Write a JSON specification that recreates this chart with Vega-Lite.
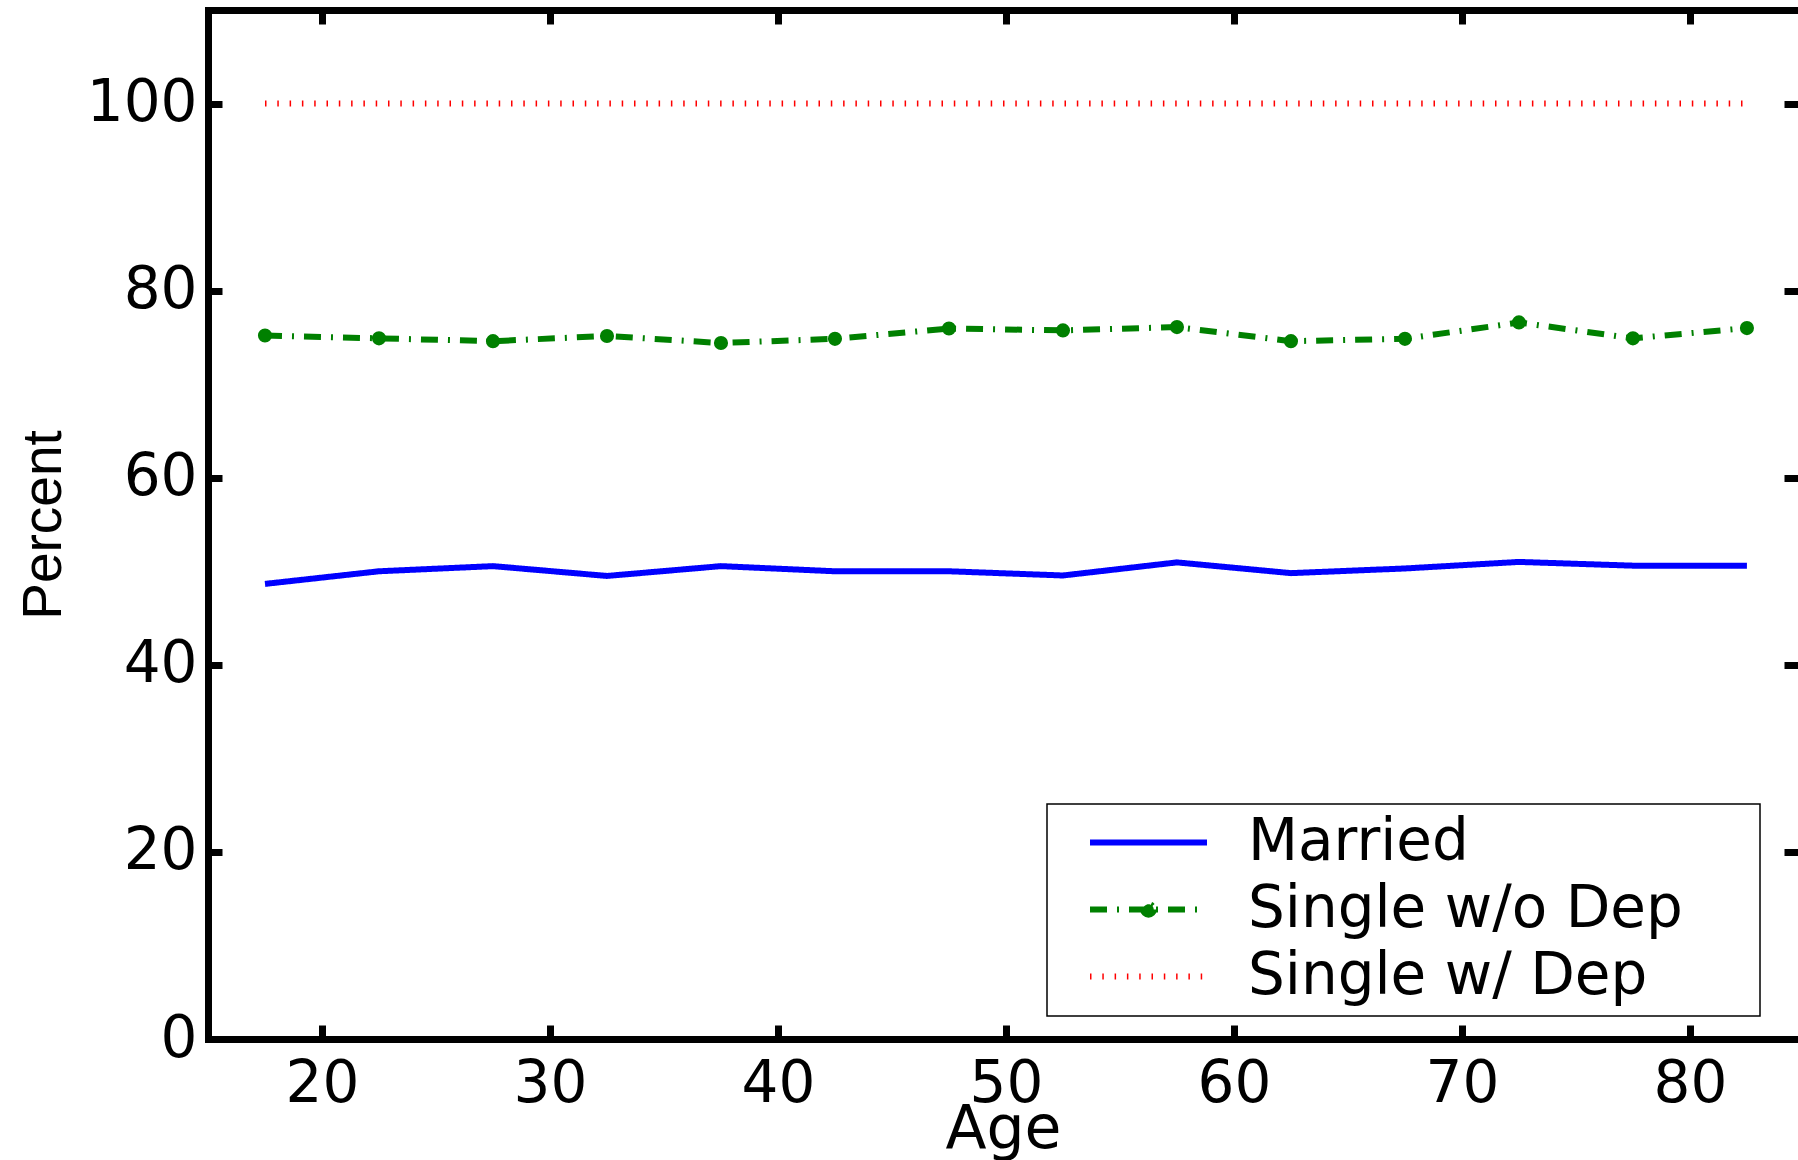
{
  "$schema": "https://vega.github.io/schema/vega-lite/v6.json",
  "width": 1590,
  "height": 1029,
  "autosize": {"type": "none"},
  "padding": {"left": 208, "top": 10, "right": 0, "bottom": 121},
  "background": "white",
  "config": {
    "view": {"stroke": null},
    "font": "DejaVu Sans",
    "axis": {
      "grid": false,
      "domainColor": "black",
      "domainWidth": 7,
      "domainCap": "square",
      "tickColor": "black",
      "tickWidth": 7,
      "tickSize": -14,
      "labelColor": "black",
      "labelFont": "DejaVu Sans",
      "labelFontSize": 58,
      "titleFont": "DejaVu Sans",
      "titleFontSize": 58,
      "titleFontWeight": "normal",
      "titleColor": "black",
      "labelFlush": false,
      "labelOverlap": false
    }
  },
  "data": {
    "values": [
      {"age": 17.5, "pct": 48.65, "series": "Married"},
      {"age": 22.5, "pct": 50.0, "series": "Married"},
      {"age": 27.5, "pct": 50.55, "series": "Married"},
      {"age": 32.5, "pct": 49.5, "series": "Married"},
      {"age": 37.5, "pct": 50.55, "series": "Married"},
      {"age": 42.5, "pct": 50.0, "series": "Married"},
      {"age": 47.5, "pct": 50.0, "series": "Married"},
      {"age": 52.5, "pct": 49.55, "series": "Married"},
      {"age": 57.5, "pct": 50.95, "series": "Married"},
      {"age": 62.5, "pct": 49.8, "series": "Married"},
      {"age": 67.5, "pct": 50.3, "series": "Married"},
      {"age": 72.5, "pct": 51.0, "series": "Married"},
      {"age": 77.5, "pct": 50.6, "series": "Married"},
      {"age": 82.5, "pct": 50.6, "series": "Married"},
      {"age": 17.5, "pct": 75.2, "series": "Single w/o Dep"},
      {"age": 22.5, "pct": 74.9, "series": "Single w/o Dep"},
      {"age": 27.5, "pct": 74.6, "series": "Single w/o Dep"},
      {"age": 32.5, "pct": 75.15, "series": "Single w/o Dep"},
      {"age": 37.5, "pct": 74.4, "series": "Single w/o Dep"},
      {"age": 42.5, "pct": 74.85, "series": "Single w/o Dep"},
      {"age": 47.5, "pct": 75.95, "series": "Single w/o Dep"},
      {"age": 52.5, "pct": 75.75, "series": "Single w/o Dep"},
      {"age": 57.5, "pct": 76.1, "series": "Single w/o Dep"},
      {"age": 62.5, "pct": 74.6, "series": "Single w/o Dep"},
      {"age": 67.5, "pct": 74.85, "series": "Single w/o Dep"},
      {"age": 72.5, "pct": 76.6, "series": "Single w/o Dep"},
      {"age": 77.5, "pct": 74.9, "series": "Single w/o Dep"},
      {"age": 82.5, "pct": 76.0, "series": "Single w/o Dep"},
      {"age": 17.5, "pct": 100, "series": "Single w/ Dep"},
      {"age": 22.5, "pct": 100, "series": "Single w/ Dep"},
      {"age": 27.5, "pct": 100, "series": "Single w/ Dep"},
      {"age": 32.5, "pct": 100, "series": "Single w/ Dep"},
      {"age": 37.5, "pct": 100, "series": "Single w/ Dep"},
      {"age": 42.5, "pct": 100, "series": "Single w/ Dep"},
      {"age": 47.5, "pct": 100, "series": "Single w/ Dep"},
      {"age": 52.5, "pct": 100, "series": "Single w/ Dep"},
      {"age": 57.5, "pct": 100, "series": "Single w/ Dep"},
      {"age": 62.5, "pct": 100, "series": "Single w/ Dep"},
      {"age": 67.5, "pct": 100, "series": "Single w/ Dep"},
      {"age": 72.5, "pct": 100, "series": "Single w/ Dep"},
      {"age": 77.5, "pct": 100, "series": "Single w/ Dep"},
      {"age": 82.5, "pct": 100, "series": "Single w/ Dep"}
    ]
  },
  "layer": [
    {
      "mark": {"type": "line", "strokeWidth": 6, "strokeCap": "butt", "strokeJoin": "miter"},
      "encoding": {
        "x": {
          "field": "age", "type": "quantitative",
          "scale": {"domain": [15, 84.74], "nice": false, "zero": false},
          "axis": {"orient": "bottom", "values": [20, 30, 40, 50, 60, 70, 80], "format": "d", "title": "Age", "labelPadding": 30, "titlePadding": -13, "titleFontSize": 60}
        },
        "y": {
          "field": "pct", "type": "quantitative",
          "scale": {"domain": [0, 110], "nice": false, "zero": true},
          "axis": {"orient": "left", "values": [0, 20, 40, 60, 80, 100], "format": "d", "title": "Percent", "labelPadding": 25, "titlePadding": 14, "titleFont": "Liberation Sans", "titleFontSize": 55}
        },
        "color": {
          "field": "series", "type": "nominal",
          "scale": {"domain": ["Married", "Single w/o Dep", "Single w/ Dep"], "range": ["#0000ff", "#008000", "#ff0000"]},
          "legend": {
            "title": null, "orient": "none", "legendX": 839, "legendY": 794,
            "strokeColor": "black", "fillColor": "white", "cornerRadius": 0,
            "padding": 10, "symbolType": "stroke", "symbolSize": 13689, "symbolStrokeWidth": 6,
            "symbolOffset": 30, "labelOffset": 38, "labelFontSize": 58, "labelFont": "DejaVu Sans",
            "labelColor": "black", "clipHeight": 57, "rowPadding": 8, "labelLimit": 0,
            "labelExpr": "datum.label + '\u00a0\u00a0\u00a0\u2009\u200b'",
            "encode": {
              "legend": {"update": {"strokeWidth": {"value": 1.5}}},
              "symbols": {"update": {
                "shape": {"signal": "datum.value === 'Single w/o Dep' ? 'M-1,0H1M0.09,0A0.09,0.09,0,1,1,-0.09,0A0.09,0.09,0,1,1,0.09,0Z' : 'M-1,0H1'"},
                "fill": {"signal": "datum.value === 'Single w/o Dep' ? '#008000' : 'transparent'"}
              }}
            }
          }
        },
        "strokeDash": {
          "field": "series", "type": "nominal",
          "scale": {"domain": ["Married", "Single w/o Dep", "Single w/ Dep"], "range": [[1, 0], [17, 10, 2, 10], [1.5, 10.8]]},
          "legend": {
            "title": null, "orient": "none", "legendX": 839, "legendY": 794,
            "strokeColor": "black", "fillColor": "white", "cornerRadius": 0,
            "padding": 10, "symbolType": "stroke", "symbolSize": 13689, "symbolStrokeWidth": 6,
            "symbolOffset": 30, "labelOffset": 38, "labelFontSize": 58, "labelFont": "DejaVu Sans",
            "labelColor": "black", "clipHeight": 57, "rowPadding": 8, "labelLimit": 0,
            "labelExpr": "datum.label + '\u00a0\u00a0\u00a0\u2009\u200b'",
            "encode": {
              "legend": {"update": {"strokeWidth": {"value": 1.5}}},
              "symbols": {"update": {
                "shape": {"signal": "datum.value === 'Single w/o Dep' ? 'M-1,0H1M0.09,0A0.09,0.09,0,1,1,-0.09,0A0.09,0.09,0,1,1,0.09,0Z' : 'M-1,0H1'"},
                "fill": {"signal": "datum.value === 'Single w/o Dep' ? '#008000' : 'transparent'"}
              }}
            }
          }
        }
      }
    },
    {
      "transform": [{"filter": "datum.series === 'Single w/o Dep'"}],
      "mark": {"type": "point", "shape": "circle", "filled": true, "size": 200, "fill": "#008000", "opacity": 1},
      "encoding": {
        "x": {
          "field": "age", "type": "quantitative",
          "axis": {"orient": "top", "values": [20, 30, 40, 50, 60, 70, 80], "labels": false, "title": null}
        },
        "y": {
          "field": "pct", "type": "quantitative",
          "axis": {"orient": "right", "values": [0, 20, 40, 60, 80, 100], "labels": false, "title": null, "domain": false}
        }
      }
    }
  ],
  "resolve": {"axis": {"x": "independent", "y": "independent"}}
}
